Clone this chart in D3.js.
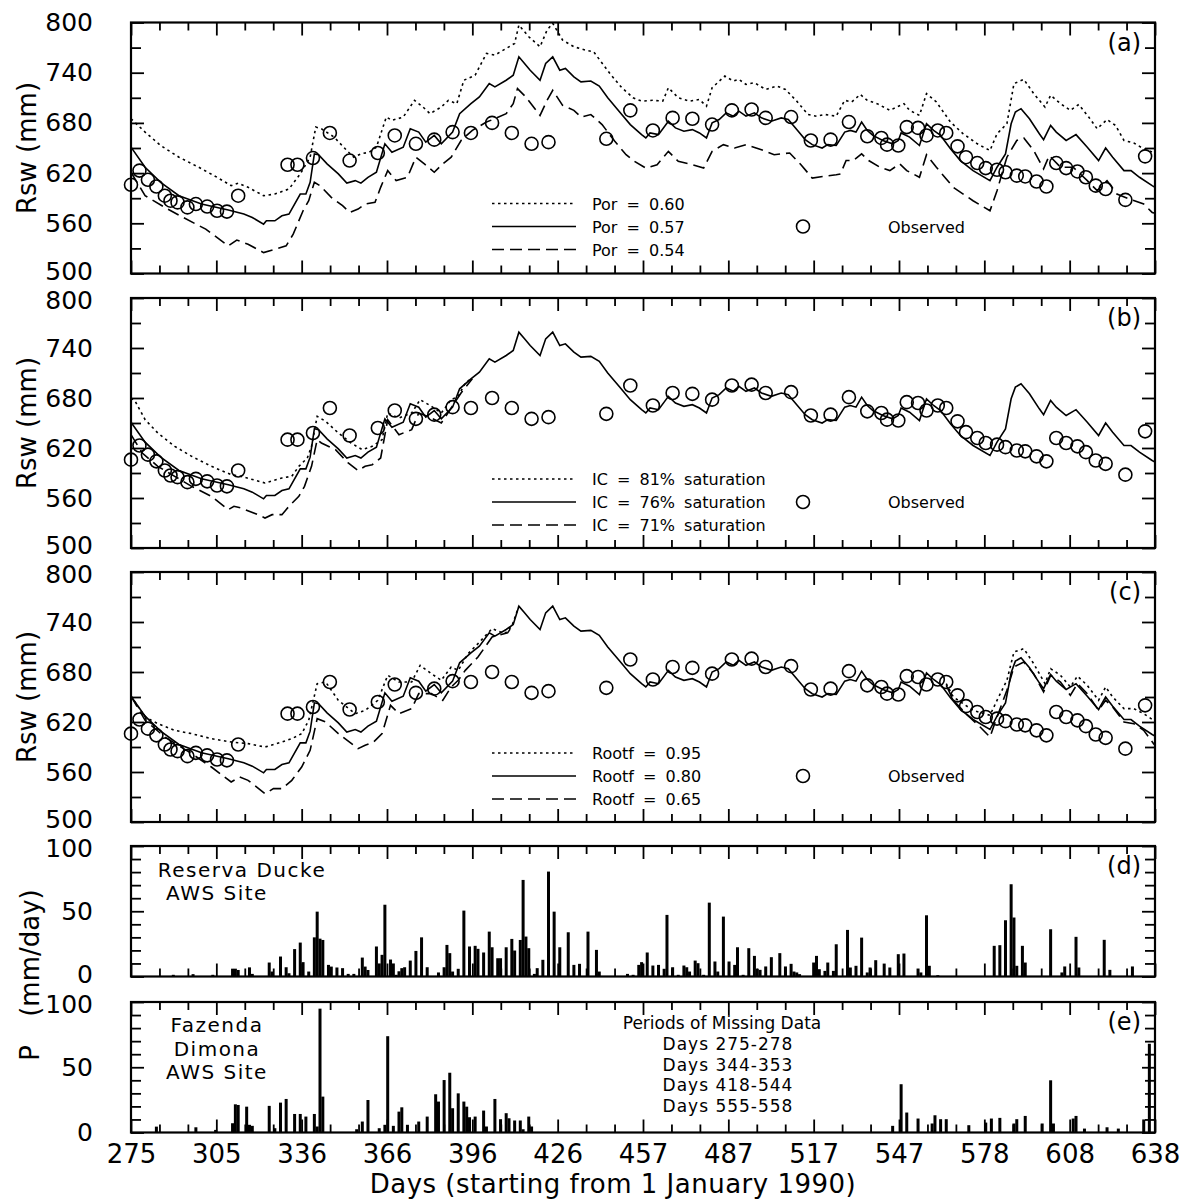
<!DOCTYPE html>
<html lang="en">
<head>
    <meta charset="utf-8">
    <title>Rsw and precipitation</title>
    <script src="https://d3js.org/d3.v7.min.js" charset="utf-8"></script>
    <style>
        body { margin: 0; background: #fff; }
        svg text { font-family: "DejaVu Sans", sans-serif; fill: #000; }
        .tick line { stroke: #000; stroke-width: 1.8; }
    </style>
</head>
<body>
<div id="chart"></div>
<script type="text/javascript">

// ---- data ----
var dayLabels = ["275","305","336","366","396","426","457","487","517","547","578","608","638"];

// observed Rsw (mm), [day, value]
var observed = [[275,606],[278,623],[281,612],[284,604],[287,593],[289,587],[291.5,585],[295,579],[298,583],[302,580],
    [305.5,575],[309,574],[313,593],[330.5,630],[334,630],[339.5,638],[345.5,668],[352.5,635],[362.5,644],[368.5,665],
    [376,655],[382.5,660],[389,669],[395.5,668],[403,680],[410,668],[417,655],[423,657],[443.5,661],[452,695],
    [460,671],[467,686],[474,685],[481,678],[488,695],[495,696],[500,686],[509,687],[516,659],[523,660],
    [529.5,681],[536,664],[541,662],[543,654],[547,653],[550,675],[554,674],[557,665],[561,671],[564,668],
    [568,652],[571,639],[575,632],[578,626],[582,624],[585,621],[589,617],[592,616],[596,610],[599.5,604],
    [603,632],[606.5,626],[610.5,622],[613.5,615],[617,605],[620.5,601],[627.5,588],[634.5,640]];

// base run (Por = 0.57, IC = 76%, Rootf = 0.80)
var baseRun = [[275,651],[280,627],[285.5,609],[292,593],[300,583],[309.5,576],[315,571],[318,567],[322,559],[323,563],
    [326,563],[328.5,569],[331,571],[335,595],[337,595],[338.5,609],[340,643],[341.5,642],[344.5,631],[348.5,619],
    [351.5,608],[354.5,611],[356.5,608],[359,615],[362,621],[365,655],[367.5,645],[371.5,651],[374,673],[377,669],
    [379.5,657],[382.5,665],[385,655],[389,669],[391.5,691],[395.5,703],[398.5,711],[402,727],[404,723],[408,731],
    [410.5,737],[412.5,759],[414.5,751],[416.5,743],[420,731],[422,751],[424.5,759],[427,743],[429,745],[432,735],
    [434.5,729],[438,730],[441,724],[444,710],[448,694],[452,678],[456,666],[457.5,662],[459,668],[462,666],
    [465.5,682],[468,674],[471,670],[474,672],[476.5,668],[479,662],[481,680],[483.5,684],[486,692],[488.5,688],
    [490.5,694],[493,688],[496,692],[498.5,686],[502,682],[505.5,686],[508,684],[511,672],[514,660],[516.5,654],
    [520,650],[522,654],[525,653],[528,669],[530,671],[532,669],[534,681],[536,671],[538,665],[541.5,659],
    [545,655],[547,659],[548,668],[551,663],[554.5,653],[557,679],[559.5,671],[562,665],[565.5,649],[569,635],
    [573.5,623],[579.5,611],[582,627],[585,643],[587,679],[588.5,693],[590.5,697],[593.5,685],[597,667],[598.5,660],
    [601,677],[603,669],[606.5,659],[610,666],[614,651],[618,635],[620.5,650],[623,639],[627,623],[629.5,623],
    [632.5,615],[637,605],[638,603]];

// panel (a)
var por60 = [[275,685],[280,669],[285.5,653],[292,639],[299,627],[305.5,615],[310.5,605],[313,608],[316.5,603],[322,593],
    [326,595],[331,601],[335,619],[338.5,639],[340.5,675],[342.5,673],[347,663],[351.5,647],[354,639],[356.5,643],
    [359.5,645],[362,651],[365.5,687],[367.5,683],[371.5,687],[375.5,707],[378.5,699],[381,691],[385,699],[387.5,707],
    [390.5,703],[393,731],[397,737],[401,763],[404,761],[408,769],[411,775],[412.5,797],[416,783],[420,771],
    [422.5,791],[424.5,799],[428,779],[432,771],[436,767],[439,765],[441,756],[445,738],[449,722],[453,710],
    [456,706],[460,707],[463.5,706],[465.5,722],[469,710],[473,706],[476.5,708],[479,700],[481,722],[485.5,736],
    [488.5,730],[490.5,732],[493,726],[496,728],[500,720],[504,724],[507,720],[511,706],[515,690],[518,688],
    [521,690],[525,688],[528,707],[530.5,705],[533.5,714],[536,707],[539.5,703],[544,695],[546.5,699],[549,703],
    [551,695],[554.5,689],[557,715],[560.5,705],[565.5,681],[570,667],[575,655],[579.5,647],[582,667],[585.5,679],
    [588,727],[591.5,732],[595,715],[599,699],[601,713],[604.5,703],[608,695],[611,702],[614.5,687],[617.5,673],
    [621,684],[624,677],[627,659],[630.5,656],[634,649],[638,644]];
var por54 = [[275,621],[280,593],[287,579],[293.5,567],[301.5,553],[309.5,533],[312.5,540],[316.5,535],[322,525],[326,529],
    [330,533],[332.5,547],[336,575],[338,587],[340,609],[342,605],[346,591],[350,581],[352.5,573],[355.5,577],
    [358,583],[361.5,585],[363.5,603],[366,623],[369,611],[373,615],[376,639],[379,631],[382.5,621],[385.5,631],
    [388.5,639],[392,659],[396,671],[401,681],[404,685],[408,691],[410.5,703],[412,721],[415,711],[420,689],
    [422.5,707],[424.5,719],[428,701],[432,695],[434.5,687],[438,690],[442,678],[446.5,658],[450.5,642],[453.5,634],
    [457.5,626],[461.5,630],[465.5,646],[469,634],[474,630],[478,626],[481,646],[485,654],[489,650],[493,654],
    [498.5,648],[503,642],[508.5,644],[512.5,630],[516.5,614],[520.5,616],[525,618],[526.5,619],[528.5,635],[531,635],
    [534,643],[536.5,635],[540.5,627],[544,623],[547.5,631],[550,623],[554.5,615],[557,642],[560.5,627],[566.5,603],
    [573.5,587],[579.5,575],[582,599],[585.5,639],[589,659],[591.5,662],[595,647],[598.5,625],[600.5,641],[604.5,627],
    [609,627],[614,611],[617.5,599],[621,611],[624.5,595],[629,589],[634,583],[637,573],[638,572]];

// panel (b), drawn until they join the base run
var ic81 = [[275,680],[276.5,676],[280,654],[284.5,638],[290.5,622],[296.5,610],[303.5,598],[310.5,588],[314,586],[322.5,578],
    [328.5,584],[332,586],[334.5,598],[337.5,608],[339,622],[341,658],[344,652],[348.5,638],[353,626],[357,618],
    [360.5,622],[364,630],[366,662],[370,656],[374.5,662],[377.5,678],[381.5,670],[385,662],[388.5,678],[391,682],
    [393.5,698],[395.5,703]];
var ic71 = [[275,636],[279,614],[284.5,598],[290.5,586],[296.5,574],[303.5,562],[309.5,546],[311.5,550],[314,548],[320,540],
    [322.5,536],[325,540],[328.5,540],[331,550],[334.5,562],[336.5,574],[339,598],[341,630],[342.5,626],[347.5,618],
    [352,602],[355.5,593],[358,598],[360.5,600],[363.5,608],[366,654],[370,636],[374.5,642],[377,662],[381.5,656],
    [385,650],[388.5,668],[392,686],[396,703]];

// panel (c), two stretches where they leave the base run
var rootf95 = [[275,651],[280,626],[284.5,618],[290.5,610],[296.5,606],[303.5,600],[310.5,596],[316.5,594],[322.5,590],[328.5,596],
    [332,600],[335.5,606],[338,622],[341,666],[344,668],[348.5,646],[354.5,630],[358,634],[362.5,646],[366,676],
    [370,668],[374.5,668],[377.5,688],[381.5,678],[385,670],[388.5,686],[391,682],[394.5,702],[398,714],[403,732],
    [407.5,726],[410,735],[412.5,759],null,
    [564,666],[566.5,650],[573.5,634],[579.5,628],[582,646],[585.5,670],[588,704],[591.5,708],[595,690],[599,666],
    [601,684],[604.5,676],[608,662],[610.5,675],[614,664],[618,646],[620.5,662],[623,650],[627,636],[630.5,636],
    [634,630],[637.5,622],[638,621]];
var rootf65 = [[275,651],[280,622],[287,602],[296.5,582],[303.5,566],[310.5,548],[313.5,554],[316.5,550],[322.5,534],[325.5,540],
    [328.5,540],[332,550],[335.5,566],[338.5,586],[341,624],[344,620],[348.5,606],[355.5,588],[358,592],[361,596],
    [364,606],[367,640],[370,630],[374.5,636],[377,654],[381.5,654],[385.5,646],[388.5,662],[391,670],[393.5,682],
    [398,698],[403,722],[408.5,727],[410.5,737],null,
    [564,664],[566.5,646],[571,630],[576,614],[579.5,602],[582,626],[585.5,658],[588,686],[591.5,692],[595,678],
    [598.5,656],[601,676],[604.5,668],[608,652],[610.5,666],[614,654],[618,634],[620.5,646],[623,638],[627,620],
    [630.5,618],[634,610],[637.5,594],[638,592]];

// daily precipitation (mm/day), [day, value]
var rainDucke = [[290,1.3],[297,1.8],[304,1.3],[311,6],[312,6],[313,5],[317,7],[318,2],[324,10.7],[325,3.8],
    [328,15.3],[330,7.1],[331,2.5],[333,21],[335,26],[336,11],[338,3.8],[340,30],[341,49.7],[342,29],
    [343,28],[345,8.9],[346,7.6],[348,6.9],[350,6.4],[352,2],[354,2],[357,14.5],[358,7.6],[359,5],
    [362,23],[363,10],[364,16.6],[365,55],[367,13],[368,10],[369,1.3],[370,4],[371,6.4],[372,7.1],
    [374,12.2],[376,19.6],[378,30],[380,7.1],[384,3.1],[386,7.1],[387,24.2],[388,17.9],[389,3.8],[391,5.9],
    [393,50.5],[395,23],[397,23.5],[398,21.2],[400,18.4],[402,34.4],[403,22.4],[405,14],[406,14],[408,22.4],
    [410,28.8],[411,19.9],[413,28],[414,74],[415,30.6],[416,21.7],[418,2],[419,6.4],[421,12.8],[423,80.4],
    [425,49.7],[427,22.4],[430,33.9],[432,8.9],[434,9.7],[437,34.4],[440,20.4],[441,3.8],[451,2],[453,1.3],
    [455,8.9],[456,11],[458,18.4],[460,8.4],[462,8.9],[464,5.9],[465,47.2],[467,7.1],[469,1.3],[471,8.4],
    [472,7.1],[473,3.8],[475,12.2],[476,10.2],[478,1.3],[480,56.6],[482,11.5],[483,3.8],[485,45.9],[487,11.5],
    [489,8.9],[490,22.4],[492,1.3],[494,21.7],[496,15.8],[497,5.9],[498,5.1],[500,7.7],[502,14.8],[505,17.9],
    [507,7.7],[509,9.7],[510,3.8],[511,3.1],[512,1.8],[517,10.7],[518,15.8],[519,5.6],[521,4.3],[522,10.7],
    [524,4.3],[525,24.7],[529,35.7],[530,6.9],[532,8.2],[534,29.8],[536,3.1],[537,6.9],[539,12.5],[542,9.9],
    [544,6.9],[547,17.1],[549,17.6],[554,6.1],[555,3.1],[557,46.9],[558,8.2],[561,1],[581,23.5],[583,24],
    [585,43.1],[587,70.7],[588,45.2],[589,8.2],[591,23.5],[592,10.7],[601,36.2],[605,3.1],[606,7.7],[610,30.4],
    [611,6.9],[620,28.1],[622,5.1],[630,7.7]];
var rainDimona = [[284,4.5],[298,4],[305,2],[311,7.1],[312,21.6],[313,21.1],[316,19.8],[317,5.9],[318,5.1],[324,20.4],
    [326,3.3],[328,22.9],[330,25.7],[333,14.2],[335,14.2],[337,12.2],[340,14.2],[341,4.6],[342,94.9],[343,27.5],
    [355,2.5],[357,8.4],[359,24.9],[363,3.3],[365,5.9],[366,73.8],[368,5.1],[370,16],[371,19.3],[373,5.9],
    [377,8.4],[380,12.2],[383,29.3],[384,23.7],[386,40.2],[388,45.8],[389,18.6],[391,30],[393,23.7],[394,19.8],
    [395,11.7],[397,12.2],[400,16.8],[401,4.6],[404,25.7],[406,10.2],[408,14.8],[409,10.9],[411,9.2],[413,9.2],
    [414,2.5],[416,12.2],[417,4.6],[545,5.1],[548,37],[550,15.3],[554,10.7],[559,6.9],[560,13.2],[562,10.2],
    [564,10.2],[572,5.6],[578,7.6],[580,10.7],[583,11.2],[588,6.9],[589,10.2],[592,12.7],[598,6.9],[601,40],
    [602,6.9],[609,10.7],[610,12.7],[613,3],[621,4],[625,3],[634,10],[636,68]];

var missingPeriods = ["Days 275-278", "Days 344-353", "Days 418-544", "Days 555-558"];

// ---- layout ----
var width = 1194;
var height = 1200;
var left = 131, right = 1155;

var svg = d3.select("#chart")
    .append("svg")
    .attr("width", width)
    .attr("height", height);

var x = d3.scaleLinear().domain([275, 638]).range([left, right]);

// 36 tick intervals; every third one carries a label
var xTicks = d3.range(37).map(function(k){ return 275 + k * 363 / 36; });
var xMajor = xTicks.filter(function(d, i){ return i % 3 === 0; });
var xMinor = xTicks.filter(function(d, i){ return i % 3 !== 0; });

var panels = [
    {name: "(a)", top: 22.5, h: 251, dom: [500, 800], step: 30, lab: 60},
    {name: "(b)", top: 298,  h: 250, dom: [500, 800], step: 30, lab: 60},
    {name: "(c)", top: 572,  h: 250, dom: [500, 800], step: 30, lab: 60},
    {name: "(d)", top: 846,  h: 130.5, dom: [0, 100], step: 10, lab: 50},
    {name: "(e)", top: 1002, h: 130.5, dom: [0, 100], step: 10, lab: 50}
];

panels.forEach(function(p, pi){
    var g = svg.append("g").attr("transform", "translate(0," + p.top + ")");
    var y = d3.scaleLinear().domain(p.dom).range([p.h, 0]);
    p.g = g;
    p.y = y;

    var yAll = d3.range(p.dom[0], p.dom[1] + 0.1, p.step);
    var yMajor = yAll.filter(function(v){ return (v - p.dom[0]) % p.lab === 0; });
    var yMinor = yAll.filter(function(v){ return (v - p.dom[0]) % p.lab !== 0; });

    function axis(gen, vals, size, fmt, tx, ty, pad) {
        var a = g.append("g")
            .attr("transform", "translate(" + tx + "," + ty + ")")
            .call(gen.tickValues(vals).tickSize(size).tickPadding(pad || 3).tickFormat(fmt || ""));
        a.select(".domain").remove();
        return a;
    }

    // inward ticks on all four sides
    var last = pi === panels.length - 1;
    var bx = axis(d3.axisBottom(x), xMajor, -13, last ? function(d, i){ return dayLabels[i]; } : null, 0, p.h, 12);
    axis(d3.axisBottom(x), xMinor, -8, null, 0, p.h);
    axis(d3.axisTop(x), xMajor, -13, null, 0, 0);
    axis(d3.axisTop(x), xMinor, -8, null, 0, 0);
    var ly = axis(d3.axisLeft(y), yMajor, -13, d3.format("d"), left, 0, 38);
    axis(d3.axisLeft(y), yMinor, -10, null, left, 0);
    axis(d3.axisRight(y), yMajor, -13, null, right, 0);
    axis(d3.axisRight(y), yMinor, -10, null, right, 0);

    // stacked panels: nudge the end labels apart so neighbours do not collide
    ly.selectAll("text")
        .attr("font-size", 25)
        .attr("font-family", "DejaVu Sans")
        .attr("y", function(d){
            if (d === p.dom[1] && pi > 0) return 2.5;
            if (d === p.dom[0] && !last) return -2.5;
            return 0;
        });
    bx.selectAll("text").attr("font-size", 26).attr("font-family", "DejaVu Sans");

    g.append("text")
        .attr("x", 1141)
        .attr("y", 28)
        .attr("text-anchor", "end")
        .attr("font-size", 24)
        .text(p.name);
});

// ---- Rsw panels ----
var line = d3.line()
    .defined(function(d){ return d !== null; });

var styles = {
    dotted: "2.5,3.5",
    solid: null,
    dashed: "12,6"
};

function drawRun(p, data, style) {
    line.x(function(d){ return x(d[0]); }).y(function(d){ return p.y(d[1]); });
    p.g.append("path")
        .datum(data)
        .attr("fill", "none")
        .attr("stroke", "#000")
        .attr("stroke-width", 1.6)
        .attr("stroke-dasharray", styles[style])
        .attr("d", line);
}

function drawObserved(p) {
    p.g.append("g").selectAll("circle")
        .data(observed)
        .enter()
        .append("circle")
        .attr("cx", function(d){ return x(d[0]); })
        .attr("cy", function(d){ return p.y(d[1]); })
        .attr("r", 6.5)
        .attr("fill", "none")
        .attr("stroke", "#000")
        .attr("stroke-width", 1.6);
}

function drawLegend(p, labels) {
    var rows = [181, 204, 227];
    var keys = ["dotted", "solid", "dashed"];
    rows.forEach(function(r, i){
        p.g.append("line")
            .attr("x1", 492).attr("x2", 576)
            .attr("y1", r).attr("y2", r)
            .attr("stroke", "#000")
            .attr("stroke-width", 1.6)
            .attr("stroke-dasharray", styles[keys[i]]);
        p.g.append("text")
            .attr("x", 592)
            .attr("y", r + 6)
            .attr("font-size", 16)
            .attr("word-spacing", 4)
            .text(labels[i]);
    });
    p.g.append("circle")
        .attr("cx", 803).attr("cy", rows[1])
        .attr("r", 6.5)
        .attr("fill", "none")
        .attr("stroke", "#000")
        .attr("stroke-width", 1.6);
    p.g.append("text")
        .attr("x", 888)
        .attr("y", rows[1] + 6)
        .attr("font-size", 16)
        .text("Observed");
}

var pa = panels[0], pb = panels[1], pc = panels[2];

drawRun(pa, por60, "dotted");
drawRun(pa, baseRun, "solid");
drawRun(pa, por54, "dashed");
drawObserved(pa);
drawLegend(pa, ["Por = 0.60", "Por = 0.57", "Por = 0.54"]);

drawRun(pb, ic81, "dotted");
drawRun(pb, baseRun, "solid");
drawRun(pb, ic71, "dashed");
drawObserved(pb);
drawLegend(pb, ["IC = 81% saturation", "IC = 76% saturation", "IC = 71% saturation"]);

drawRun(pc, rootf95, "dotted");
drawRun(pc, baseRun, "solid");
drawRun(pc, rootf65, "dashed");
drawObserved(pc);
drawLegend(pc, ["Rootf = 0.95", "Rootf = 0.80", "Rootf = 0.65"]);

// ---- precipitation panels ----
function drawBars(p, data) {
    p.g.append("g").selectAll("rect")
        .data(data)
        .enter()
        .append("rect")
        .attr("x", function(d){ return x(d[0]) - 1.5; })
        .attr("width", 3)
        .attr("y", function(d){ return p.y(d[1]); })
        .attr("height", function(d){ return p.y(0) - p.y(d[1]); })
        .attr("fill", "#000");
}

var pd = panels[3], pe = panels[4];
drawBars(pd, rainDucke);
drawBars(pe, rainDimona);

pd.g.append("text").attr("x", 242).attr("y", 31).attr("text-anchor", "middle")
    .attr("font-size", 20).attr("letter-spacing", 1.5).text("Reserva Ducke");
pd.g.append("text").attr("x", 217).attr("y", 54).attr("text-anchor", "middle")
    .attr("font-size", 20).attr("letter-spacing", 1.5).text("AWS Site");

["Fazenda", "Dimona", "AWS Site"].forEach(function(t, i){
    pe.g.append("text").attr("x", 217).attr("y", 30 + i * 23.5).attr("text-anchor", "middle")
        .attr("font-size", 20).attr("letter-spacing", 1.5).text(t);
});

pe.g.append("text").attr("x", 722).attr("y", 27).attr("text-anchor", "middle")
    .attr("font-size", 17).text("Periods of Missing Data");
missingPeriods.forEach(function(t, i){
    pe.g.append("text").attr("x", 728).attr("y", 48 + i * 20.5).attr("text-anchor", "middle")
        .attr("font-size", 17).attr("letter-spacing", 1).text(t);
});

// frames drawn last so they sit on top
panels.forEach(function(p){
    p.g.append("rect")
        .attr("x", left).attr("y", 0)
        .attr("width", right - left).attr("height", p.h)
        .attr("fill", "none")
        .attr("stroke", "#000")
        .attr("stroke-width", 2.2);
});

// ---- axis titles ----
[pa, pb, pc].forEach(function(p){
    svg.append("text")
        .attr("transform", "translate(36," + (p.top + p.h / 2) + ") rotate(-90)")
        .attr("text-anchor", "middle")
        .attr("font-size", 26)
        .text("Rsw (mm)");
});

svg.append("text")
    .attr("transform", "translate(39,975) rotate(-90)")
    .attr("text-anchor", "middle")
    .attr("font-size", 26)
    .attr("word-spacing", 20)
    .text("P (mm/day)");

svg.append("text")
    .attr("x", 613)
    .attr("y", 1193)
    .attr("text-anchor", "middle")
    .attr("font-size", 26)
    .attr("letter-spacing", 0.5)
    .text("Days (starting from 1 January 1990)");

</script>
</body>
</html>
